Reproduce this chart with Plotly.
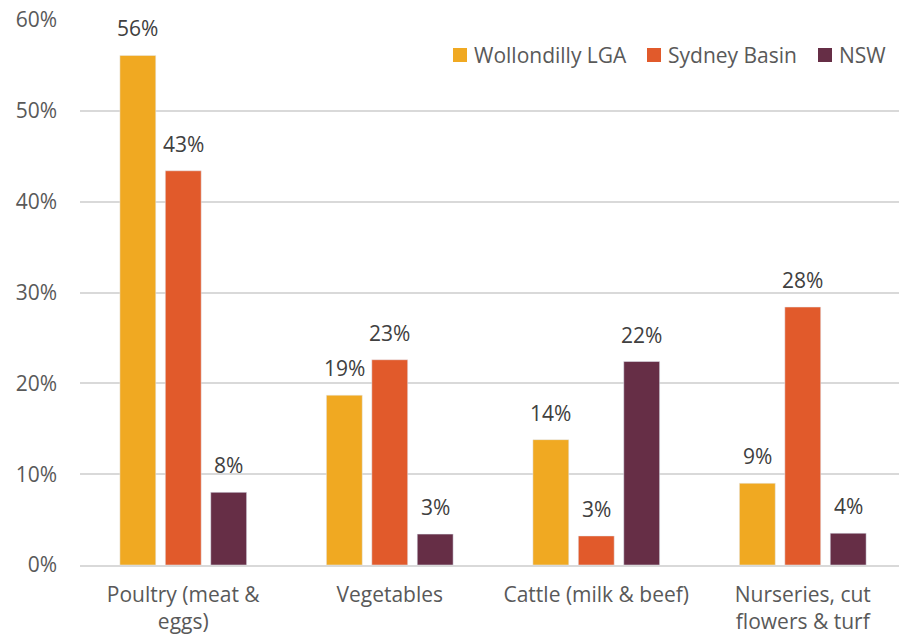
import plotly.graph_objects as go

categories = ["Poultry (meat &<br>eggs)", "Vegetables", "Cattle (milk & beef)", "Nurseries, cut<br>flowers & turf"]
series_names = ["Wollondilly LGA", "Sydney Basin", "NSW"]
wollondilly = [0.561, 0.187, 0.138, 0.090]
sydney_basin = [0.434, 0.226, 0.032, 0.284]
nsw = [0.080, 0.034, 0.224, 0.035]
y_ticks = [0, 0.1, 0.2, 0.3, 0.4, 0.5, 0.6]
colors = ["#F0A922", "#E15A2B", "#662E46"]

BARGAP = 0.34
BARGROUPGAP = 0.21
FONT = "Open Sans"
FS = 21

# plot-area pixel frame (for legend placement)
L, R, T, B = 80, 0, 20, 70
W, H = 899, 635
pw, ph = W - L - R, H - T - B

def px_x(px):
    return (px - L) / pw

def px_y(py):
    return (H - B - py) / ph

fig = go.Figure()
all_series = [wollondilly, sydney_basin, nsw]
for name, vals, col in zip(series_names, all_series, colors):
    fig.add_trace(go.Bar(
        x=categories, y=vals, name=name, marker_color=col, showlegend=False,
        hoverinfo="skip",
    ))

# data labels
slot = (1 - BARGAP) / len(all_series)
annotations = []
for j, vals in enumerate(all_series):
    for i, v in enumerate(vals):
        annotations.append(dict(
            x=i + (j - 1) * slot, y=v, xref="x", yref="y",
            text=f"{round(v * 100):.0f}%", showarrow=False,
            yanchor="bottom", xanchor="center", yshift=11,
            font=dict(family=FONT, size=FS, color="#404040"),
        ))

# custom legend
legend_text_x = [472, 666, 837]
legend_y = 55
shapes = []
for name, col, tx in zip(series_names, colors, legend_text_x):
    shapes.append(dict(
        type="rect", xref="paper", yref="paper",
        x0=px_x(tx - 19), x1=px_x(tx - 5),
        y0=px_y(legend_y + 7), y1=px_y(legend_y - 7),
        fillcolor=col, line=dict(width=0),
    ))
    annotations.append(dict(
        x=px_x(tx), y=px_y(legend_y), xref="paper", yref="paper",
        text=name, showarrow=False, xanchor="left", yanchor="middle",
        font=dict(family=FONT, size=FS, color="#595959"),
    ))

fig.update_layout(
    width=W, height=H,
    margin=dict(l=L, r=R, t=T, b=B),
    paper_bgcolor="white", plot_bgcolor="white",
    barmode="group", bargap=BARGAP, bargroupgap=BARGROUPGAP,
    font=dict(family=FONT, size=FS, color="#595959"),
    annotations=annotations, shapes=shapes,
    xaxis=dict(range=[-0.5, 3.466], showgrid=False, showline=True, linecolor="#D9D9D9",
               linewidth=1.5, ticks="", ticklabelstandoff=10,
               tickfont=dict(size=FS, color="#595959")),
    yaxis=dict(range=[0, 0.6], tickvals=y_ticks, tickformat=".0%", showgrid=True,
               gridcolor="#D9D9D9", gridwidth=1.5, zeroline=False, showline=False,
               ticks="", ticklabelstandoff=22, tickfont=dict(size=FS, color="#595959")),
)

fig.write_html("out.html", config={"displayModeBar": False},
               post_script="document.body.style.margin='0';")
